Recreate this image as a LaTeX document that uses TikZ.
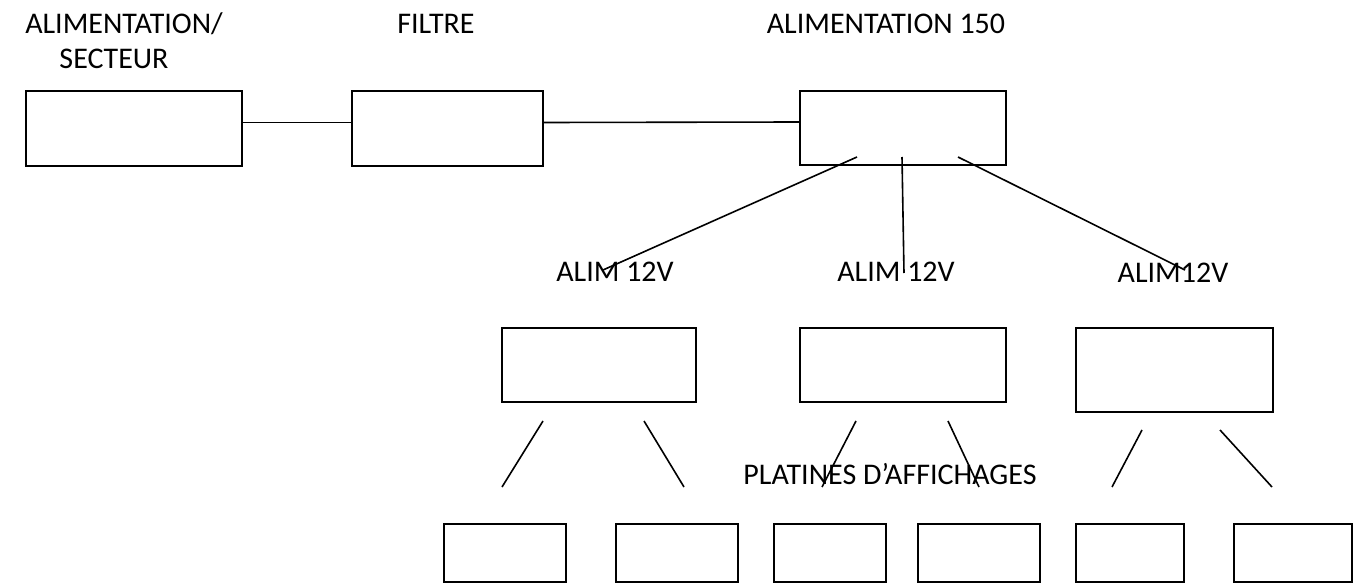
\documentclass[tikz,border=0pt]{standalone}
\usepackage{fontspec}
\setmainfont{Carlito}
\tikzset{
  bloc/.style={draw, line width=1.5pt, inner sep=0pt, minimum height=55.5pt},
  lien/.style={line width=1.2pt},
  titre/.style={anchor=base, inner sep=0pt, font=\fontsize{22.5}{27}\selectfont}
}
\begin{document}
\begin{tikzpicture}[x=0.75pt,y=0.75pt,yscale=-1,xscale=1]
            \useasboundingbox (0,0) rectangle (1360,585);
            %ligne du haut
            \node[bloc, minimum width=162pt, minimum height=56.25pt] (secteur) at (134,128.5) {};
            \node[bloc, minimum width=143.25pt, minimum height=56.25pt] (filtre) at (447.5,128.5) {};
            \node[bloc, minimum width=154.5pt] (alim) at (903,128) {};
            \draw[lien] ([yshift=-4.5pt]secteur.east) -- ([yshift=-4.5pt]filtre.west);
            \draw[lien] ([yshift=-4.5pt]filtre.east) -- ([yshift=-4.5pt]alim.west);
            \node[titre] (tsecteur1) at (124,33.5) {ALIMENTATION/};
            \node[titre] (tsecteur2) at (114,68.5) {SECTEUR};
            \node[titre] (tfiltre) at (436,33.5) {FILTRE};
            \node[titre] (talim) at (886,33.5) {ALIMENTATION 150};
            %
            %alimentations 12V
            \node[bloc, minimum width=145.5pt] (douze1) at (599,365) {};
            \node[bloc, minimum width=154.5pt] (douze2) at (903,365) {};
            \node[bloc, minimum width=147.75pt, minimum height=63pt] (douze3) at (1174.5,370) {};
            \node[titre] (tdouze1) at (615,281.5) {ALIM 12V};
            \node[titre] (tdouze2) at (896,281.5) {ALIM 12V};
            \node[titre] (tdouze3) at (1173,282) {ALIM12V};
            \coordinate (d1) at (857,157);
            \coordinate (d2) at (902,157);
            \coordinate (d3) at (958,157);
            \coordinate (f1) at (603,270);
            \coordinate (f2) at (904,273);
            \coordinate (f3) at (1185,270);
            \draw[lien] (d1) -- (f1);
            \draw[lien] (d2) -- (f2);
            \draw[lien] (d3) -- (f3);
            %
            %platines
            \foreach \n/\cx/\w in {1/505/91.5, 2/677/91.5, 3/830/84, 4/979/91.5, 5/1130/81, 6/1293/88.5} {
                \node[bloc, minimum width=\w pt, minimum height=43.5pt] (platine\n) at (\cx,553) {};
            }
            \node[titre] (tplatines) at (890,484.5) {PLATINES D’AFFICHAGES};
            \foreach \n/\xa/\ya/\xb in {1/543/421/502, 2/644/421/684, 3/856/421/822, 4/948/421/979, 5/1142/430/1112, 6/1220/430/1272} {
                \coordinate (p\n) at (\xa,\ya);
                \coordinate (q\n) at (\xb,487);
                \draw[lien] (p\n) -- (q\n);
            }
            %
        \end{tikzpicture}
\end{document}
